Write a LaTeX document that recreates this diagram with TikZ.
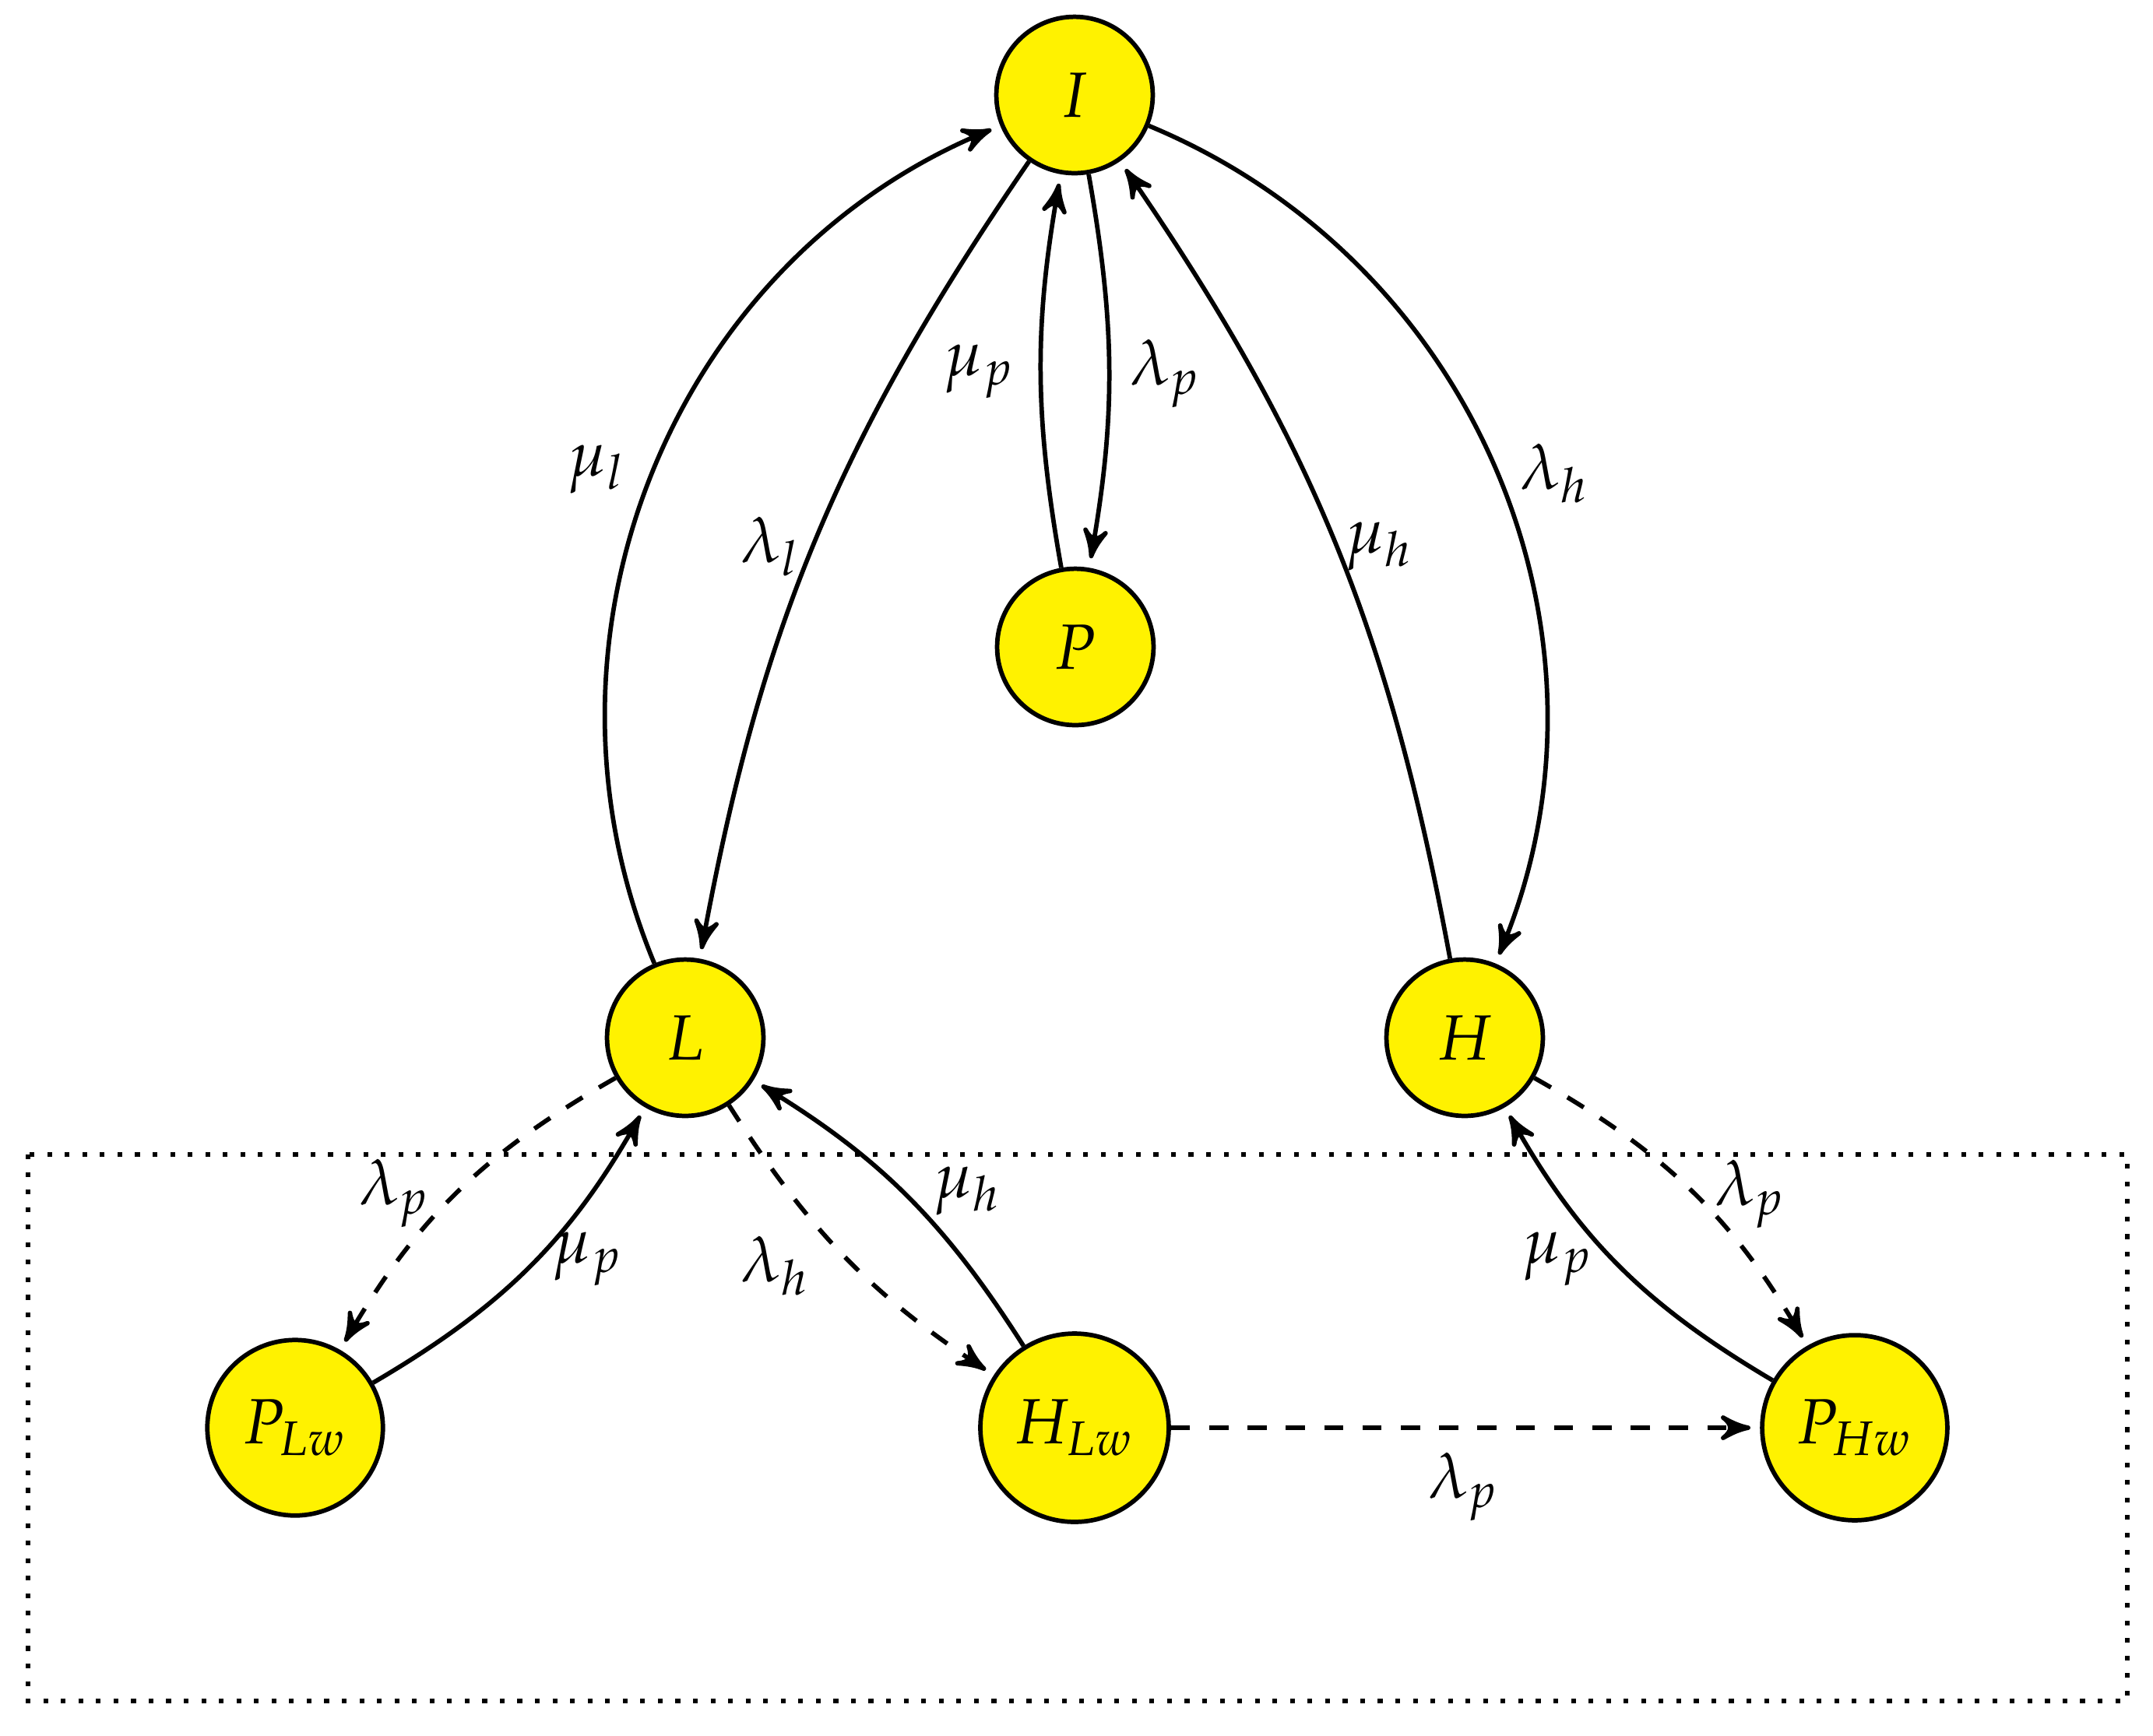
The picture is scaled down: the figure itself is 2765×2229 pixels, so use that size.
\documentclass[tikz,border=0pt]{standalone}
\usepackage{mathpazo}
\usetikzlibrary{arrows}
\definecolor{nodeyellow}{RGB}{255,242,0}
\begin{document}
\begin{tikzpicture}[x=0.12195pt, y=-0.12195pt, >=stealth',
  state/.style={circle, draw, fill=nodeyellow, line width=0.7pt, minimum size=24.5pt, inner sep=1pt},
  lab/.style={inner sep=0pt},
  conn/.style={line width=0.7pt, ->, shorten >=1.5pt},
  dconn/.style={line width=0.7pt, ->, dashed, shorten >=1.5pt}]
\useasboundingbox (0,0) rectangle (2765,2229);
% frame
\draw[line width=0.75pt, dotted] (36,1483) rectangle (2732,2185);
% nodes
\node[state] (I) at (1380,122) {$I$};
\node[state] (P) at (1381,831) {$P$};
\node[state] (L) at (880,1333) {$L$};
\node[state] (H) at (1881,1333) {$H$};
\node[state, minimum size=27.5pt] (PLw) at (379,1834) {$P_{Lw}$};
\node[state, minimum size=29.5pt] (HLw) at (1380,1834) {$H_{Lw}$};
\node[state, minimum size=29pt] (PHw) at (2382,1834) {$P_{Hw}$};
% connectors
\draw[conn] (L) to[bend left=45] (I);
\draw[conn] (I) to[bend right=12] (L);
\draw[conn] (P) to[bend left=10] (I);
\draw[conn] (I) to[bend left=10] (P);
\draw[conn] (I) to[bend left=45] (H);
\draw[conn] (H) to[bend right=12] (I);
\draw[dconn] (L) to[bend right=15] (PLw);
\draw[conn] (PLw) to[bend right=15] (L);
\draw[dconn] (L) to[bend right=12] (HLw);
\draw[conn] (HLw) to[bend right=13] (L);
\draw[dconn] (H) to[bend left=15] (PHw);
\draw[conn] (PHw) to[bend left=15] (H);
\draw[dconn] (HLw) -- (PHw);
% labels
\node[lab] (l1) at (767,603) {$\mu_l$};
\node[lab] (l2) at (990,702) {$\lambda_l$};
\node[lab] (l3) at (1258,477) {$\mu_p$};
\node[lab] (l4) at (1497,480) {$\lambda_p$};
\node[lab] (l5) at (1772,702) {$\mu_h$};
\node[lab] (l6) at (1997,608) {$\lambda_h$};
\node[lab] (l7) at (507,1533) {$\lambda_p$};
\node[lab] (l8) at (755,1617) {$\mu_p$};
\node[lab] (l9) at (996,1626) {$\lambda_h$};
\node[lab] (l10) at (1243,1530) {$\mu_h$};
\node[lab] (l11) at (2248,1534) {$\lambda_p$};
\node[lab] (l12) at (2001,1617) {$\mu_p$};
\node[lab] (l13) at (1880,1910) {$\lambda_p$};
\end{tikzpicture}
\end{document}
